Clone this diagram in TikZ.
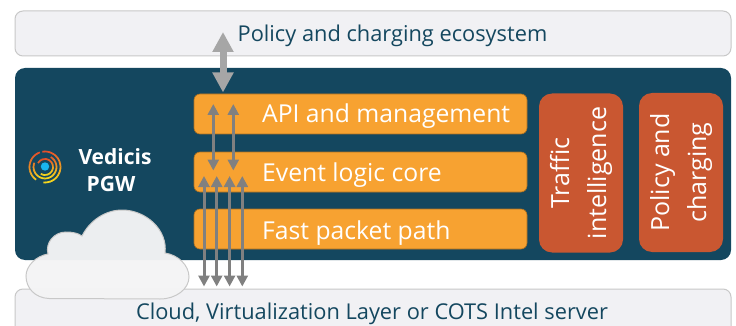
\documentclass[tikz,border=0pt]{standalone}
\usepackage{fontspec}
\setmainfont{Open Sans}
\usetikzlibrary{arrows.meta}
\definecolor{navy}{HTML}{14475F}
\definecolor{amber}{HTML}{F7A231}
\definecolor{rust}{HTML}{C95731}
\definecolor{pale}{HTML}{F1F1F4}
\definecolor{edgegray}{HTML}{C8C8C8}
\definecolor{logoR}{HTML}{E4502A}
\definecolor{logoY}{HTML}{F6D81E}
\definecolor{logoC}{HTML}{19B5F0}
\definecolor{cloudfill}{HTML}{F4F4F5}
\tikzset{
  x=1pt,y=-1pt,
  bar/.style={draw=edgegray,line width=1pt,fill=pale,rounded corners=8pt,minimum width=716pt,inner sep=0pt},
  layer/.style={draw=black!30!amber,line width=.6pt,fill=amber,rounded corners=6pt,minimum width=333pt,minimum height=40pt,inner sep=0pt},
  engine/.style={fill=rust,rounded corners=13pt,rotate=90,minimum width=159pt,minimum height=84pt,inner sep=0pt,align=center,text=white,font=\fontsize{25}{37}\selectfont},
  bartext/.style={text=navy,font=\fontsize{21.8}{26}\selectfont,inner sep=0pt},
  layertext/.style={text=white,font=\fontsize{24.7}{30}\selectfont,anchor=west,inner sep=0pt},
  brand/.style={text=white,font=\bfseries\fontsize{21}{25}\selectfont,inner sep=0pt},
  bigarrow/.style={{Triangle[width=20pt,length=20pt]}-{Triangle[width=20pt,length=20pt]},draw=black!35,line width=7pt},
  smallarrow/.style={{Triangle[width=11pt,length=11pt]}-{Triangle[width=11pt,length=11pt]},draw=black!50,line width=3pt},
}
\begin{document}
\begin{tikzpicture}
\path[use as bounding box] (0,0) rectangle (736,326);
\fill[white] (0,0) rectangle (736,326);
% bars
\node[bar,minimum height=45pt] (top) at (373,33.5) {};
\node[bartext] (toptext) at (392.5,35.5) {Policy and charging ecosystem};
\node[fill=navy,rounded corners=10pt,minimum width=716pt,minimum height=192pt,inner sep=0pt] (main) at (373,164) {};
\begin{scope}
\clip (0,0) rectangle (736,326);
\node[bar,minimum height=60pt] (bottom) at (373,319) {};
\end{scope}
\node[bartext] (bottomtext) at (372,313.5) {Cloud, Virtualization Layer or COTS Intel server};
% layers
\node[layer] (api) at (360.5,114) {};
\node[layer] (event) at (360.5,172) {};
\node[layer] (fast) at (360.5,229) {};
\node[layertext] (apitext) at (262,116.5) {API and management};
\node[layertext] (eventtext) at (262,175) {Event logic core};
\node[layertext] (fasttext) at (262,233.5) {Fast packet path};
% engines
\node[engine] (traffic) at (581,173) {Traffic\\intelligence};
\node[engine] (policy) at (681,172.5) {Policy and\\charging};
% logo
\foreach \r/\a/\b in {15.5/-100/95, 15.5/125/250, 11.5/-60/200, 8/-150/120}{
  \foreach \s in {0,...,23}{
    \pgfmathsetmacro\ang{\a+(\b-\a)*\s/24}
    \pgfmathsetmacro\angn{\a+(\b-\a)*(\s+1.15)/24}
    \pgfmathtruncatemacro\t{100*(sin(\ang+10)+1)/2}
    \draw[line width=1.7pt,color={logoY!\t!logoR}] ({45+\r*cos(\ang)},{167+\r*sin(\ang)}) -- ({45+\r*cos(\angn)},{167+\r*sin(\angn)});
  }
}
\fill[logoC] (45,166.5) circle[radius=4.2pt];
\node[brand] (vedicis) at (115,156.5) {Vedicis};
\node[brand] (pgw) at (111,183.5) {PGW};
% cloud
\path[draw=edgegray,line width=1pt,fill=cloudfill,fill opacity=.97] (49,298.5)
  .. controls (35,298) and (26,288) .. (26,276)
  .. controls (26,266) and (36,256) .. (48,254)
  .. controls (45,243) and (54,232) .. (66,232)
  .. controls (72,232) and (78,233) .. (82,236)
  .. controls (90,220) and (106,210) .. (122,210)
  .. controls (146,210) and (168,230) .. (165,253)
  .. controls (178,255) and (189,265) .. (189,277)
  .. controls (189,289) and (176,299) .. (160,299)
  -- cycle;
% arrows
\coordinate (bigA) at (223,32);
\coordinate (bigB) at (223,92.5);
\draw[bigarrow] (bigA) -- (bigB);
\foreach \n/\x in {a/213.3,b/233.3}{
  \coordinate (s\n1) at (\x,104);
  \coordinate (s\n2) at (\x,170.5);
  \draw[smallarrow] (s\n1) -- (s\n2);
}
\foreach \n/\x in {c/204,d/216.7,e/229.6,f/242.3}{
  \coordinate (s\n1) at (\x,176);
  \coordinate (s\n2) at (\x,286.5);
  \draw[smallarrow] (s\n1) -- (s\n2);
}
\end{tikzpicture}
\end{document}
